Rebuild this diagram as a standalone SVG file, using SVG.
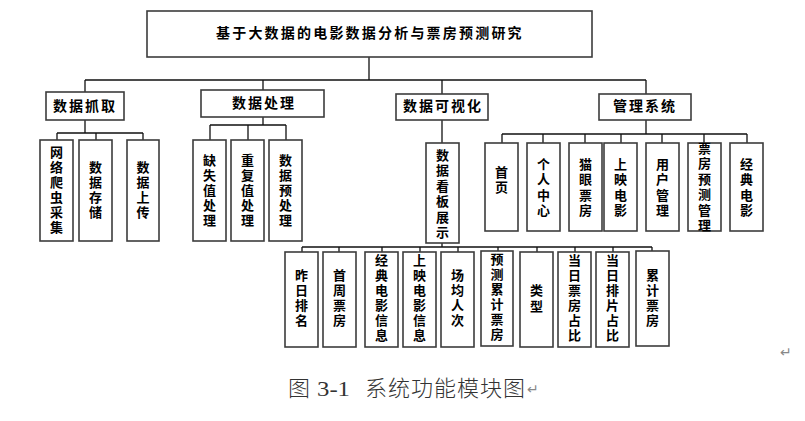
<svg xmlns="http://www.w3.org/2000/svg" width="805" height="421" viewBox="0 0 805 421">
<style>
.box{fill:#fff;stroke:#3c3c3c;stroke-width:1.6}
.lbl{font-family:"Noto Sans CJK SC","Noto Sans",sans-serif;font-weight:700;font-size:14px;fill:#000}
.v{font-size:13px;writing-mode:vertical-rl;text-orientation:upright;letter-spacing:2px}
.w{letter-spacing:2.5px}
.h{letter-spacing:2px}
.conn path{stroke:#111;stroke-width:1.3;fill:none}
.cap{font-family:"Liberation Serif","Noto Sans CJK SC",serif;font-size:22px;fill:#333;font-weight:300}
.mark{font-family:"DejaVu Sans",sans-serif;font-size:14px;fill:#888}
</style>
<rect width="805" height="421" fill="#fff"/>
<g class="conn">
<path d="M369 57V80M85 80H646M85 80V92M263 80V90M442 80V94M646 80V94"/>
<path d="M85 120V133M57 133H143M57 133V140M96 133V140M143 133V140"/>
<path d="M263 117V125M210 125H286M210 125V140M248 125V140M286 125V140"/>
<path d="M442 120V143"/>
<path d="M646 120V134M502 134H747M502 134V143M543 134V143M585 134V143M621 134V143M662 134V143M704 134V143M747 134V143"/>
<path d="M442 243V247M302 247H652M302 247V252M339 247V252M382 247V252M420 247V252M458 247V252M498 247V251M537 247V252M575 247V252M613 247V252M652 247V251"/>
</g>
<g id="title"><rect class="box" x="147" y="11" width="445" height="46"/><text class="lbl" x="216" y="38" style="letter-spacing:2.2px">基于大数据的电影数据分析与票房预测研究</text></g>
<g id="n-zhuaqu"><rect class="box" x="46" y="92" width="78" height="28"/><text class="lbl h" x="53" y="111">数据抓取</text></g>
<g id="n-chuli"><rect class="box" x="201" y="90" width="123" height="27"/><text class="lbl h" x="232" y="108">数据处理</text></g>
<g id="n-keshihua"><rect class="box" x="396" y="94" width="92" height="26"/><text class="lbl h" x="403" y="111">数据可视化</text></g>
<g id="n-guanli"><rect class="box" x="599" y="94" width="92" height="26"/><text class="lbl h" x="613" y="111">管理系统</text></g>

<g id="a1"><rect class="box" x="40" y="140" width="33" height="101"/><text class="lbl v" x="56.5" y="145.5">网络爬虫采集</text></g>
<g id="a2"><rect class="box" x="79" y="140" width="33" height="101"/><text class="lbl v" x="95.5" y="160.5">数据存储</text></g>
<g id="a3"><rect class="box" x="127" y="140" width="32" height="101"/><text class="lbl v" x="143" y="160.5">数据上传</text></g>

<g id="b1"><rect class="box" x="193" y="140" width="33" height="101"/><text class="lbl v" x="209.5" y="153.5">缺失值处理</text></g>
<g id="b2"><rect class="box" x="231" y="140" width="33" height="101"/><text class="lbl v" x="247.5" y="153.5">重复值处理</text></g>
<g id="b3"><rect class="box" x="269" y="140" width="33" height="101"/><text class="lbl v" x="285.5" y="153.5">数据预处理</text></g>

<g id="c1"><rect class="box" x="426" y="143" width="33" height="100"/><text class="lbl v w" x="442.5" y="148.5">数据看板展示</text></g>

<g id="d1"><rect class="box" x="485" y="143" width="33" height="88"/><text class="lbl v" x="501.5" y="165.5">首页</text></g>
<g id="d2"><rect class="box" x="527" y="143" width="33" height="88"/><text class="lbl v w" x="543.5" y="157.5">个人中心</text></g>
<g id="d3"><rect class="box" x="569" y="143" width="33" height="88"/><text class="lbl v w" x="585.5" y="157.5">猫眼票房</text></g>
<g id="d4"><rect class="box" x="604" y="143" width="33" height="88"/><text class="lbl v w" x="620.5" y="157.5">上映电影</text></g>
<g id="d5"><rect class="box" x="646" y="143" width="33" height="88"/><text class="lbl v w" x="662.5" y="157.5">用户管理</text></g>
<g id="d6"><rect class="box" x="688" y="143" width="33" height="88"/><text class="lbl v w" x="704.5" y="141.5">票房预测管理</text></g>
<g id="d7"><rect class="box" x="730" y="143" width="33" height="88"/><text class="lbl v w" x="746.5" y="157.5">经典电影</text></g>

<g id="e1"><rect class="box" x="285" y="252" width="33" height="95"/><text class="lbl v" x="301.5" y="268.5">昨日排名</text></g>
<g id="e2"><rect class="box" x="323" y="252" width="33" height="95"/><text class="lbl v" x="339.5" y="268.5">首周票房</text></g>
<g id="e3"><rect class="box" x="365" y="252" width="33" height="95"/><text class="lbl v" x="381.5" y="253.5">经典电影信息</text></g>
<g id="e4"><rect class="box" x="403" y="252" width="33" height="95"/><text class="lbl v" x="419.5" y="253.5">上映电影信息</text></g>
<g id="e5"><rect class="box" x="441" y="252" width="33" height="95"/><text class="lbl v" x="457.5" y="268.5">场均人次</text></g>
<g id="e6"><rect class="box" x="481" y="251" width="32" height="95"/><text class="lbl v" x="497" y="252.5">预测累计票房</text></g>
<g id="e7"><rect class="box" x="520" y="252" width="33" height="95"/><text class="lbl v" x="536.5" y="283.5" style="letter-spacing:3px">类型</text></g>
<g id="e8"><rect class="box" x="558" y="252" width="33" height="95"/><text class="lbl v" x="574.5" y="253.5">当日票房占比</text></g>
<g id="e9"><rect class="box" x="596" y="252" width="33" height="95"/><text class="lbl v" x="612.5" y="253.5">当日排片占比</text></g>
<g id="e10"><rect class="box" x="636" y="251" width="33" height="95"/><text class="lbl v" x="652.5" y="268.5">累计票房</text></g>

<g id="caption">
<text class="cap" y="396"><tspan x="288">图</tspan><tspan x="317" textLength="33" lengthAdjust="spacingAndGlyphs" style="font-weight:400">3-1</tspan><tspan x="365" style="letter-spacing:1px">系统功能模块图</tspan></text>
<text class="mark" x="527" y="394">↵</text>
<text class="mark" x="780" y="357">↵</text>
</g>
</svg>
